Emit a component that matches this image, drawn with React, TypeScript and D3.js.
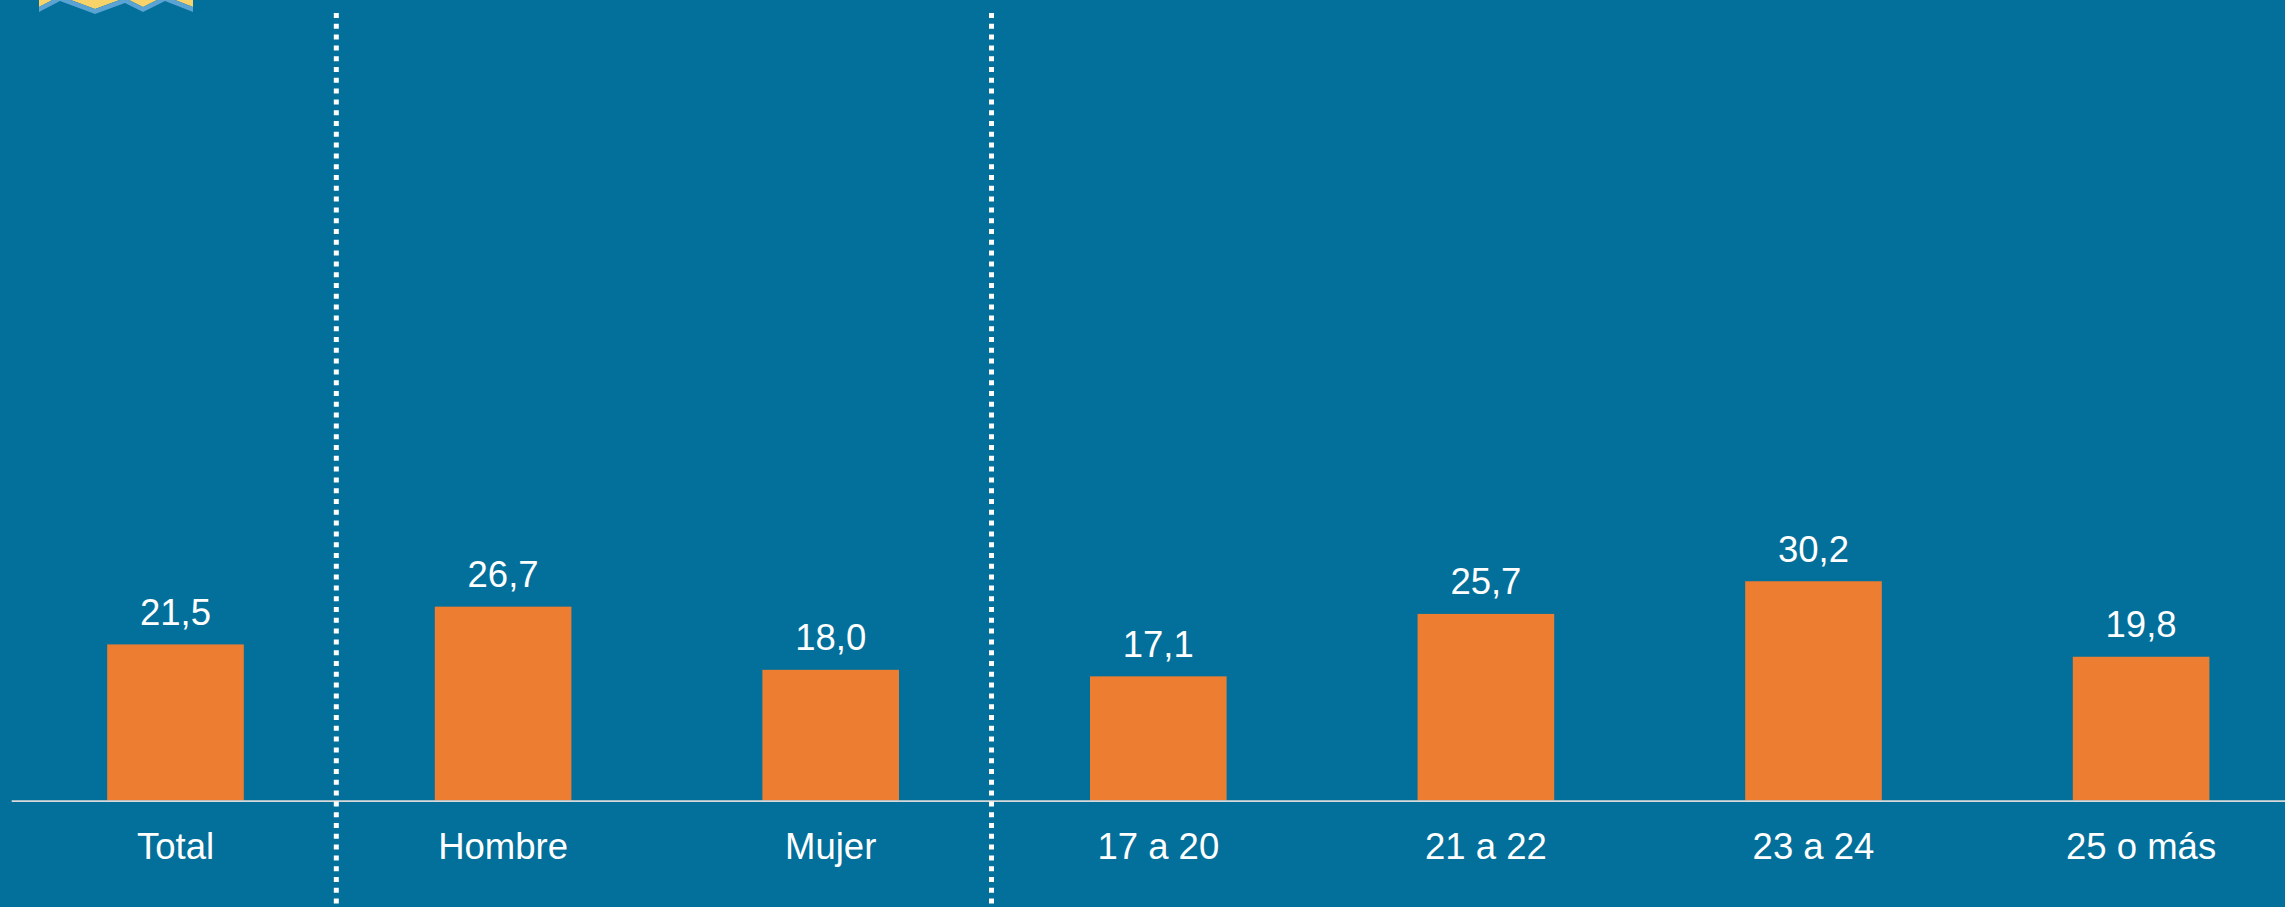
import React from "react";
import * as d3 from "d3";

const categories = ["Total", "Hombre", "Mujer", "17 a 20", "21 a 22", "23 a 24", "25 o más"];
const values = [21.5, 26.7, 18.0, 17.1, 25.7, 30.2, 19.8];
const separatorsBefore = ["Hombre", "17 a 20"];

const W = 2285;
const H = 907;
const BG = "#02709a";
const ORANGE = "#ED7D31";
const FONT = "'Liberation Sans', Arial, sans-serif";

export default function App() {
  const step = 327.6;
  const x = d3
    .scaleBand<string>()
    .domain(categories)
    .range([11.7, 11.7 + step * categories.length])
    .paddingInner(0.583)
    .paddingOuter(0.2915);
  const y = d3.scaleLinear().domain([0, 100]).range([800.5, 74.5]);
  const fmt = (v: number) => d3.format(".1f")(v).replace(".", ",");

  const zig: [number, number][] = [
    [39, 12], [60, 1], [95, 14], [125, 3], [143, 12], [165, 1], [193, 12],
  ];
  const line = d3.line();
  const bottomPath = zig.map(([a, b]) => [a, b] as [number, number]);
  const topPath = zig.map(([a, b]) => [a, b - 5] as [number, number]).reverse();
  const bluePoly = line([...bottomPath, ...topPath]) + "Z";
  const yellowPoly =
    line([[39, 0], [193, 0], ...zig.slice().reverse().map(([a, b]) => [a, b - 5] as [number, number])]) + "Z";

  return (
    <div style={{ position: "absolute", left: 0, top: 0, width: W, height: H, overflow: "hidden" }}>
      <svg width={W} height={H} style={{ display: "block" }}>
        <rect x={0} y={0} width={W} height={H} fill={BG} />
        <path d={yellowPoly} fill="#f8d36a" />
        <path d={bluePoly} fill="#5aa3d3" />
        {values.map((v, i) => {
          const c = categories[i];
          const bx = x(c)!;
          return (
            <g key={c}>
              <rect x={bx} y={y(v)} width={x.bandwidth()} height={y(0) - y(v)} fill={ORANGE} />
              <text
                x={bx + x.bandwidth() / 2}
                y={y(v) - 19.5}
                fill="#ffffff"
                fontSize={36.5}
                fontFamily={FONT}
                textAnchor="middle"
              >
                {fmt(v)}
              </text>
              <text
                x={bx + x.bandwidth() / 2}
                y={859}
                fill="#ffffff"
                fontSize={36.5}
                fontFamily={FONT}
                textAnchor="middle"
              >
                {c}
              </text>
            </g>
          );
        })}
        <line x1={11.7} x2={W} y1={801.2} y2={801.2} stroke="#d9d9d9" strokeWidth={1.8} />
        {separatorsBefore.map((c) => {
          const sx = x(c)! - x.step() * x.paddingInner() / 2 - 3;
          return (
            <line
              key={c}
              x1={sx}
              x2={sx}
              y1={13}
              y2={H}
              stroke="#ffffff"
              strokeWidth={5}
              strokeDasharray="5 5.8"
            />
          );
        })}
      </svg>
    </div>
  );
}
